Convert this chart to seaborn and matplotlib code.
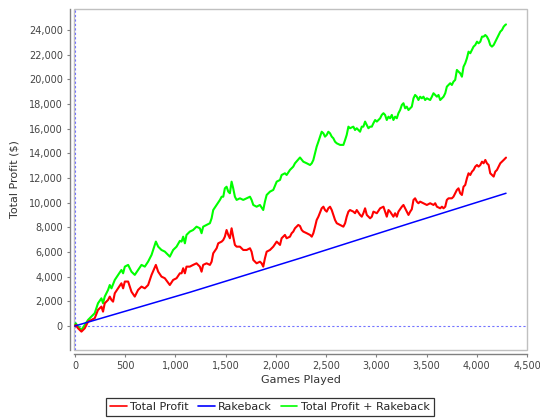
import matplotlib
matplotlib.use('Agg')
import matplotlib.pyplot as plt
import seaborn as sns
from matplotlib.ticker import FuncFormatter
from matplotlib.patches import Rectangle
from matplotlib.lines import Line2D

# values
games_profit = [0, 7, 30, 64, 97, 130, 163, 196, 229, 263, 279, 296, 329, 346, 363, 379, 396, 429, 462, 479,
                496, 529, 562, 595, 628, 662, 695, 728, 762, 805, 828, 861, 894, 944, 977, 1011, 1044, 1061,
                1077, 1094, 1110, 1143, 1176, 1210, 1243, 1260, 1276, 1310, 1343, 1360, 1376, 1410, 1426,
                1460, 1476, 1492, 1509, 1526, 1542, 1559, 1575, 1592, 1609, 1642, 1675, 1709, 1742, 1758,
                1775, 1808, 1841, 1858, 1874, 1891, 1908, 1941, 1974, 2008, 2041, 2057, 2090, 2107, 2140,
                2157, 2173, 2190, 2223, 2240, 2257, 2273, 2307, 2340, 2357, 2373, 2390, 2406, 2423, 2456,
                2473, 2489, 2506, 2522, 2539, 2556, 2572, 2589, 2606, 2639, 2672, 2689, 2705, 2722, 2738,
                2771, 2788, 2805, 2838, 2855, 2871, 2888, 2905, 2938, 2955, 2971, 3005, 3038, 3071, 3087,
                3104, 3121, 3137, 3170, 3187, 3204, 3220, 3254, 3270, 3287, 3303, 3320, 3337, 3353, 3370,
                3386, 3403, 3419, 3436, 3469, 3503, 3536, 3569, 3586, 3603, 3636, 3653, 3669, 3686, 3702,
                3719, 3752, 3768, 3785, 3802, 3818, 3835, 3852, 3868, 3885, 3902, 3918, 3935, 3952, 3968,
                3985, 4002, 4018, 4035, 4052, 4068, 4085, 4101, 4118, 4134, 4151, 4168, 4184, 4201, 4218,
                4234, 4251, 4268, 4284, 4291]
total_profit = [0, 80, -190, -460, -190, 350, 490, 620, 1300, 1570, 1160, 1840, 2110, 2380, 2110, 1970, 2650,
                3050, 3460, 3050, 3600, 3600, 2780, 2380, 2920, 3190, 3050, 3320, 4140, 4950, 4400, 4000,
                3870, 3320, 3730, 3870, 4270, 4270, 4680, 4270, 4810, 4810, 4950, 5080, 4810, 4400, 4950,
                5080, 4950, 5210, 5890, 6300, 6700, 6840, 6970, 7240, 7780, 7380, 7110, 7920, 7240, 6570,
                6430, 6430, 6160, 6160, 6300, 6020, 5350, 5080, 5210, 5080, 4810, 5490, 6020, 6160, 6430,
                6840, 6570, 7110, 7380, 7110, 7240, 7520, 7650, 7920, 8190, 8100, 7780, 7650, 7520, 7380,
                7240, 7520, 8050, 8590, 8860, 9540, 9670, 9400, 9270, 9540, 9670, 9400, 9000, 8590, 8330,
                8190, 8050, 8330, 8860, 9270, 9400, 9270, 9140, 9400, 9000, 8860, 9140, 9540, 9000, 8730,
                8860, 9270, 9140, 9540, 9670, 9270, 8860, 9400, 9270, 8860, 9140, 8860, 9270, 9670, 9810,
                9540, 9270, 9000, 9270, 9460, 10220, 10350, 10080, 9950, 10080, 9950, 9810, 9950, 9810,
                9950, 9670, 9540, 9670, 9540, 9670, 10220, 10350, 10350, 10480, 10760, 11030, 11160, 10760,
                10620, 11290, 11430, 11980, 12380, 12240, 12510, 12650, 12920, 13050, 12920, 13050, 13320,
                13190, 13460, 13190, 13050, 12380, 12240, 12110, 12510, 12650, 12920, 13190, 13320, 13460,
                13600, 13650]

games_rakeback = [0, 1143, 2240, 3337, 4291]
rakeback = [0, 2730, 5490, 8330, 10760]

games_combined = [0, 7, 30, 64, 97, 130, 163, 196, 229, 263, 279, 296, 329, 346, 363, 396, 429, 462, 479, 496,
                  529, 562, 595, 628, 662, 695, 728, 762, 805, 828, 861, 894, 944, 977, 1011, 1044, 1061, 1077,
                  1094, 1110, 1143, 1176, 1210, 1243, 1260, 1276, 1310, 1343, 1360, 1376, 1410, 1443, 1460,
                  1476, 1492, 1509, 1526, 1542, 1559, 1575, 1592, 1609, 1642, 1675, 1709, 1742, 1758, 1775,
                  1808, 1841, 1874, 1891, 1908, 1941, 1974, 2008, 2041, 2057, 2090, 2107, 2140, 2173, 2190,
                  2223, 2240, 2273, 2307, 2340, 2357, 2373, 2390, 2406, 2423, 2456, 2473, 2489, 2506, 2522,
                  2539, 2556, 2572, 2589, 2606, 2639, 2672, 2689, 2705, 2722, 2738, 2771, 2788, 2805, 2838,
                  2855, 2871, 2888, 2921, 2938, 2955, 2971, 2988, 3005, 3038, 3054, 3071, 3087, 3104, 3121,
                  3137, 3154, 3170, 3187, 3204, 3220, 3237, 3254, 3270, 3287, 3303, 3320, 3337, 3353, 3370,
                  3386, 3403, 3419, 3436, 3453, 3469, 3486, 3503, 3536, 3553, 3569, 3586, 3603, 3619, 3636,
                  3653, 3669, 3686, 3702, 3719, 3735, 3752, 3768, 3785, 3802, 3818, 3835, 3852, 3868, 3885,
                  3902, 3918, 3935, 3952, 3968, 3985, 4002, 4018, 4035, 4052, 4068, 4085, 4101, 4118, 4134,
                  4151, 4168, 4184, 4201, 4218, 4234, 4251, 4268, 4284, 4291]
total_plus_rakeback = [0, 220, -50, -320, 80, 490, 760, 1030, 1840, 2240, 1840, 2380, 2920, 3320, 3050, 3730,
                       4140, 4540, 4270, 4810, 4950, 4400, 4140, 4540, 4950, 4810, 5220, 5760, 6840, 6430,
                       6160, 6030, 5620, 6160, 6430, 6900, 6840, 7240, 6700, 7380, 7650, 7780, 8050, 7920,
                       7520, 8050, 8190, 8330, 8730, 9400, 9810, 10220, 10480, 10480, 11160, 11290, 10890,
                       10760, 11700, 11160, 10480, 10220, 10350, 10220, 10350, 10480, 10220, 9810, 9670,
                       9810, 9400, 10080, 10620, 10890, 11030, 11700, 11840, 12240, 12380, 12240, 12650,
                       12920, 13190, 13500, 13660, 13320, 13190, 13050, 13190, 13460, 14000, 14540, 14940,
                       15750, 15620, 15350, 15490, 15750, 15620, 15350, 15220, 14940, 14810, 14680, 14680,
                       15080, 15490, 16160, 16030, 16160, 15890, 16030, 15750, 16160, 16160, 16570, 16030,
                       16160, 16160, 16440, 16700, 16570, 16840, 17110, 17250, 17110, 16700, 16970, 16840,
                       17110, 16700, 16970, 16840, 17250, 17510, 17920, 18060, 17650, 17780, 17510, 17650,
                       17780, 18460, 18730, 18590, 18320, 18590, 18460, 18590, 18320, 18460, 18320, 18590,
                       18870, 18730, 18590, 18730, 18320, 18460, 18590, 18870, 19400, 19540, 19680, 19540,
                       19810, 19950, 20760, 20620, 20490, 20210, 21020, 21300, 21710, 22240, 22110, 22380,
                       22650, 22780, 23050, 22920, 23050, 23460, 23460, 23590, 23460, 23190, 22780, 22650,
                       22780, 23050, 23320, 23590, 23860, 24000, 24270, 24410, 24450]

sns.set_style('white')
plt.rcParams['font.family'] = ['DejaVu Sans']

fig = plt.figure(figsize=(5.4, 4.2), dpi=100)
ax = fig.add_axes([74 / 540, 70 / 420, 453 / 540, 341 / 420])

zero_style = dict(color='#7474ff', lw=0.8, ls=(0, (2, 2)), zorder=1)
ax.axhline(0, **zero_style)
ax.axvline(0, **zero_style)

sns.lineplot(x=games_combined, y=total_plus_rakeback, color='#00ff00', lw=1.5, sort=False, ax=ax)
sns.lineplot(x=games_profit, y=total_profit, color='#ff0000', lw=1.5, sort=False, ax=ax)
sns.lineplot(x=games_rakeback, y=rakeback, color='#0000ff', lw=1.1, sort=False, ax=ax)

ax.set_xlim(-10, 4500)
ax.set_ylim(-1950, 25700)
ax.set_xticks(range(0, 4501, 500))
ax.set_yticks(range(0, 24001, 2000))
fmt = FuncFormatter(lambda v, p: f'{v:,.0f}')
ax.xaxis.set_major_formatter(fmt)
ax.yaxis.set_major_formatter(fmt)
ax.tick_params(bottom=True, left=True, direction='out', length=2, width=0.8,
               color='#808080', labelsize=7, labelcolor='#444444', pad=3)

for s in ['top', 'right']:
    ax.spines[s].set_visible(False)
for s in ['left', 'bottom']:
    ax.spines[s].set_position(('outward', 3))
    ax.spines[s].set_color('#808080')
    ax.spines[s].set_linewidth(1)
ax.add_patch(Rectangle((0, 0), 1, 1, transform=ax.transAxes, fill=False,
                       ec='#c0c0c0', lw=1, clip_on=False, zorder=0))

ax.set_xlabel('Games Played', fontsize=8, color='#333333', labelpad=3)
ax.set_ylabel('Total Profit ($)', fontsize=8, color='#333333', labelpad=7)

handles = [Line2D([], [], color='#ff0000', lw=1.2),
           Line2D([], [], color='#0000ff', lw=1.2),
           Line2D([], [], color='#00ff00', lw=1.2)]
leg = fig.legend(handles, ['Total Profit', 'Rakeback', 'Total Profit + Rakeback'],
                 loc='center', bbox_to_anchor=(0.5, 1 - 407 / 420), ncol=3, fontsize=8,
                 frameon=True, fancybox=False, edgecolor='black', handlelength=1.5,
                 handletextpad=0.3, columnspacing=0.8, borderpad=0.4)
leg.get_frame().set_linewidth(0.9)

fig.savefig('out.png', dpi=100)
